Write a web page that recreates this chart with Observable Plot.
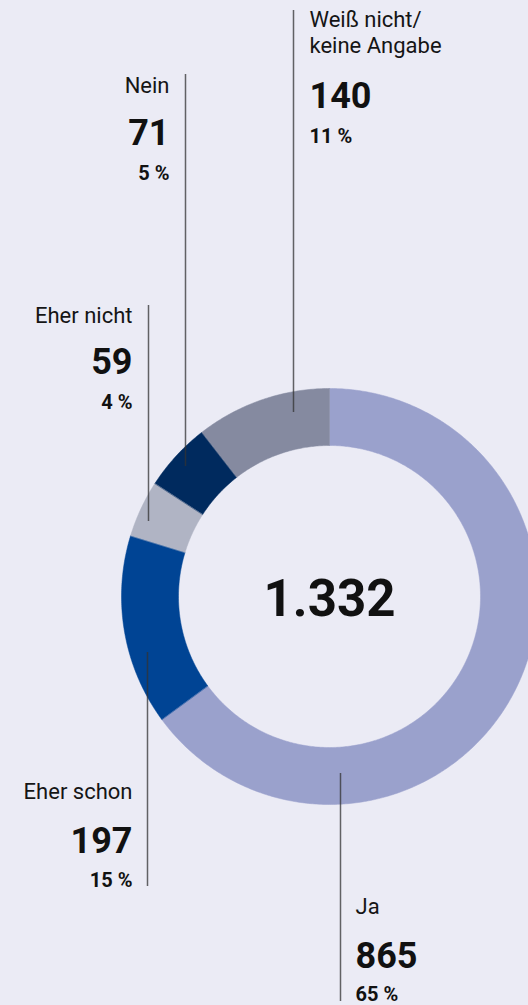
<!DOCTYPE html>
<html>
<head>
<meta charset="utf-8">
<script src="https://cdn.jsdelivr.net/npm/d3@7"></script>
<script src="https://cdn.jsdelivr.net/npm/@observablehq/plot@0.6"></script>
<style>
  html, body { margin: 0; padding: 0; background: #ebebf5; overflow: hidden; }
  #chart svg { display: block; background: #ebebf5; }
</style>
</head>
<body>
<div id="chart"></div>
<script>
// ---- data ----
const categories = ["Ja", "Eher schon", "Eher nicht", "Nein", "Weiß nicht/\nkeine Angabe"];
const values = [865, 197, 59, 71, 140];
const percents = [65, 15, 4, 5, 11];
const colors = ["#9aa1cc", "#004494", "#b0b4c4", "#002a5e", "#858aa0"];

// ---- layout (pixels) ----
const W = 528, H = 1005;
const cx = 329, cy = 596, rOuter = 208, rInner = 151;
const lineX = [340, 147, 148, 185, 293];
const lineTop = [773, 652, 305, 74, 10];
const lineBottom = [1001, 886, 521, 466, 412];
const textX = [355, 132, 132, 169, 309];
const textAnchor = ["start", "end", "end", "end", "start"];
const catY = [913, 798, 322, 92, 52];
const numY = [967, 852, 373, 144, 107];
const pctY = [1000, 886, 408, 179, 142];

const de = d3.formatLocale({decimal: ",", thousands: ".", grouping: [3], currency: ["", " €"]});
const fmt = de.format(",d");
const total = d3.sum(values);

// slice polygons from the values
const pie = d3.pie().sort(null).value(d => d)(values);
const pts = [];
pie.forEach((s, i) => {
  const n = Math.max(8, Math.ceil((s.endAngle - s.startAngle) / 0.01));
  const ring = [];
  for (let k = 0; k <= n; k++) {
    const a = s.startAngle + (s.endAngle - s.startAngle) * k / n;
    ring.push([cx + rOuter * Math.sin(a), cy - rOuter * Math.cos(a)]);
  }
  for (let k = n; k >= 0; k--) {
    const a = s.startAngle + (s.endAngle - s.startAngle) * k / n;
    ring.push([cx + rInner * Math.sin(a), cy - rInner * Math.cos(a)]);
  }
  ring.forEach(([x, y]) => pts.push({cat: categories[i], x, y}));
});

const rows = categories.map((c, i) => ({
  cat: c, value: values[i], pct: percents[i] + " %",
  lx: lineX[i], ly1: lineTop[i], ly2: lineBottom[i],
  tx: textX[i], anchor: textAnchor[i], cy: catY[i], ny: numY[i], py: pctY[i]
}));

const font = "Roboto, 'Noto Sans', sans-serif";
const startRows = rows.filter(d => d.anchor === "start");
const endRows = rows.filter(d => d.anchor === "end");

function textMarks(data, anchor) {
  return [
    Plot.text(data, {x: "tx", y: "cy", text: "cat", textAnchor: anchor, lineAnchor: "bottom",
      lineHeight: 1.14, fontSize: 22, fontWeight: 400, fill: "#151515"}),
    Plot.text(data, {x: "tx", y: "ny", text: d => fmt(d.value), textAnchor: anchor, lineAnchor: "bottom",
      fontSize: 36, fontWeight: 700, fill: "#111"}),
    Plot.text(data, {x: "tx", y: "py", text: "pct", textAnchor: anchor, lineAnchor: "bottom",
      fontSize: 20, fontWeight: 700, fill: "#111"})
  ];
}

const chart = Plot.plot({
  width: W, height: H,
  margin: 0,
  style: {background: "#ebebf5", fontFamily: font, overflow: "hidden"},
  x: {domain: [0, W], range: [0, W], axis: null},
  y: {domain: [0, H], range: [0, H], axis: null},
  color: {domain: categories, range: colors},
  marks: [
    Plot.line(pts, {x: "x", y: "y", z: "cat", fill: "cat", stroke: "cat", strokeWidth: 0.5, curve: "linear-closed"}),
    Plot.ruleX(rows, {x: "lx", y1: "ly1", y2: "ly2", stroke: "#333", strokeOpacity: 0.75, strokeWidth: 1.5}),
    ...textMarks(startRows, "start"),
    ...textMarks(endRows, "end"),
    Plot.text([total], {x: () => cx, y: () => 615, text: d => fmt(d), textAnchor: "middle", lineAnchor: "bottom",
      fontSize: 51, fontWeight: 700, fill: "#111"})
  ]
});
document.getElementById("chart").appendChild(chart);
</script>
</body>
</html>
